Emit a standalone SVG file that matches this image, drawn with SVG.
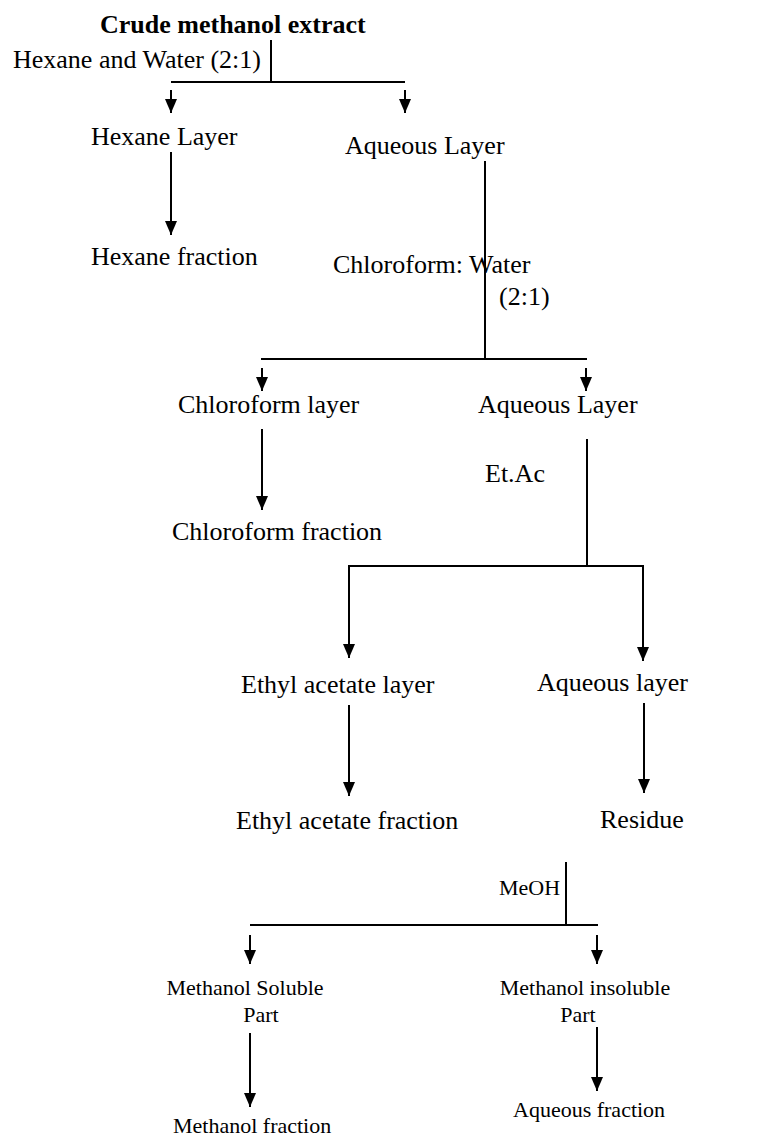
<svg xmlns="http://www.w3.org/2000/svg" width="771" height="1140" viewBox="0 0 771 1140">
<style>
  text { font-family: "Liberation Serif", "Times New Roman", serif; fill: #000; }
  .t { font-size: 26px; }
  .s { font-size: 22px; }
  .b { font-weight: bold; }
  .ln { stroke: #000; stroke-width: 2; fill: none; }
</style>
<defs>
  <marker id="ah" viewBox="0 0 14 12" refX="14" refY="6" markerWidth="14" markerHeight="12" markerUnits="userSpaceOnUse" orient="auto">
    <path d="M0,0 L14,6 L0,12 Z" fill="#000"/>
  </marker>
</defs>
<rect width="771" height="1140" fill="#fff"/>

<g id="connectors">
  <!-- step 1 -->
  <line class="ln" x1="271" y1="40" x2="271" y2="82"/>
  <line class="ln" x1="171" y1="82" x2="405" y2="82"/>
  <line class="ln" x1="171" y1="90" x2="171" y2="113" marker-end="url(#ah)"/>
  <line class="ln" x1="405" y1="90" x2="405" y2="113" marker-end="url(#ah)"/>
  <line class="ln" x1="171" y1="152" x2="171" y2="235" marker-end="url(#ah)"/>
  <!-- step 2 -->
  <line class="ln" x1="485" y1="161" x2="485" y2="359"/>
  <line class="ln" x1="261" y1="359" x2="587" y2="359"/>
  <line class="ln" x1="262" y1="368" x2="262" y2="391" marker-end="url(#ah)"/>
  <line class="ln" x1="586" y1="368" x2="586" y2="391" marker-end="url(#ah)"/>
  <line class="ln" x1="262" y1="429" x2="262" y2="510" marker-end="url(#ah)"/>
  <!-- step 3 -->
  <line class="ln" x1="587" y1="439" x2="587" y2="566"/>
  <polyline class="ln" points="349,658 349,566 643,566 643,661" marker-end="url(#ah)"/>
  <line class="ln" x1="349" y1="566" x2="349" y2="658" marker-end="url(#ah)"/>
  <line class="ln" x1="349" y1="705" x2="349" y2="796" marker-end="url(#ah)"/>
  <line class="ln" x1="644" y1="703" x2="644" y2="793" marker-end="url(#ah)"/>
  <!-- step 4 -->
  <line class="ln" x1="566" y1="862" x2="566" y2="925"/>
  <line class="ln" x1="250" y1="925" x2="598" y2="925"/>
  <line class="ln" x1="250" y1="935" x2="250" y2="964" marker-end="url(#ah)"/>
  <line class="ln" x1="597" y1="935" x2="597" y2="964" marker-end="url(#ah)"/>
  <line class="ln" x1="250" y1="1033" x2="250" y2="1107" marker-end="url(#ah)"/>
  <line class="ln" x1="597" y1="1027" x2="597" y2="1091" marker-end="url(#ah)"/>
</g>

<g id="crude"><text class="t b" x="100" y="33">Crude methanol extract</text></g>
<g id="solvent1"><text class="t" x="13" y="68">Hexane and Water (2:1)</text></g>
<g id="hexane-layer"><text class="t" x="91" y="145">Hexane Layer</text></g>
<g id="hexane-fraction"><text class="t" x="91" y="265">Hexane fraction</text></g>
<g id="aqueous1"><text class="t" x="345" y="154">Aqueous Layer</text></g>
<g id="solvent2"><text class="t" x="333" y="273">Chloroform: Water</text><text class="t" x="499" y="305">(2:1)</text></g>
<g id="chloroform-layer"><text class="t" x="178" y="413">Chloroform layer</text></g>
<g id="aqueous2"><text class="t" x="478" y="413">Aqueous Layer</text></g>
<g id="chloroform-fraction"><text class="t" x="172" y="540">Chloroform fraction</text></g>
<g id="solvent3"><text class="t" x="485" y="482">Et.Ac</text></g>
<g id="ethyl-layer"><text class="t" x="241" y="693">Ethyl acetate layer</text></g>
<g id="aqueous3"><text class="t" x="537" y="691">Aqueous layer</text></g>
<g id="ethyl-fraction"><text class="t" x="236" y="829">Ethyl acetate fraction</text></g>
<g id="residue"><text class="t" x="600" y="828">Residue</text></g>
<g id="solvent4"><text class="s" x="499" y="895">MeOH</text></g>
<g id="meoh-soluble"><text class="s" x="245" y="995" text-anchor="middle">Methanol Soluble</text><text class="s" x="261" y="1022" text-anchor="middle">Part</text></g>
<g id="meoh-insoluble"><text class="s" x="585" y="995" text-anchor="middle">Methanol insoluble</text><text class="s" x="578" y="1022" text-anchor="middle">Part</text></g>
<g id="methanol-fraction"><text class="s" x="173" y="1133">Methanol fraction</text></g>
<g id="aqueous-fraction"><text class="s" x="513" y="1117">Aqueous fraction</text></g>
</svg>
